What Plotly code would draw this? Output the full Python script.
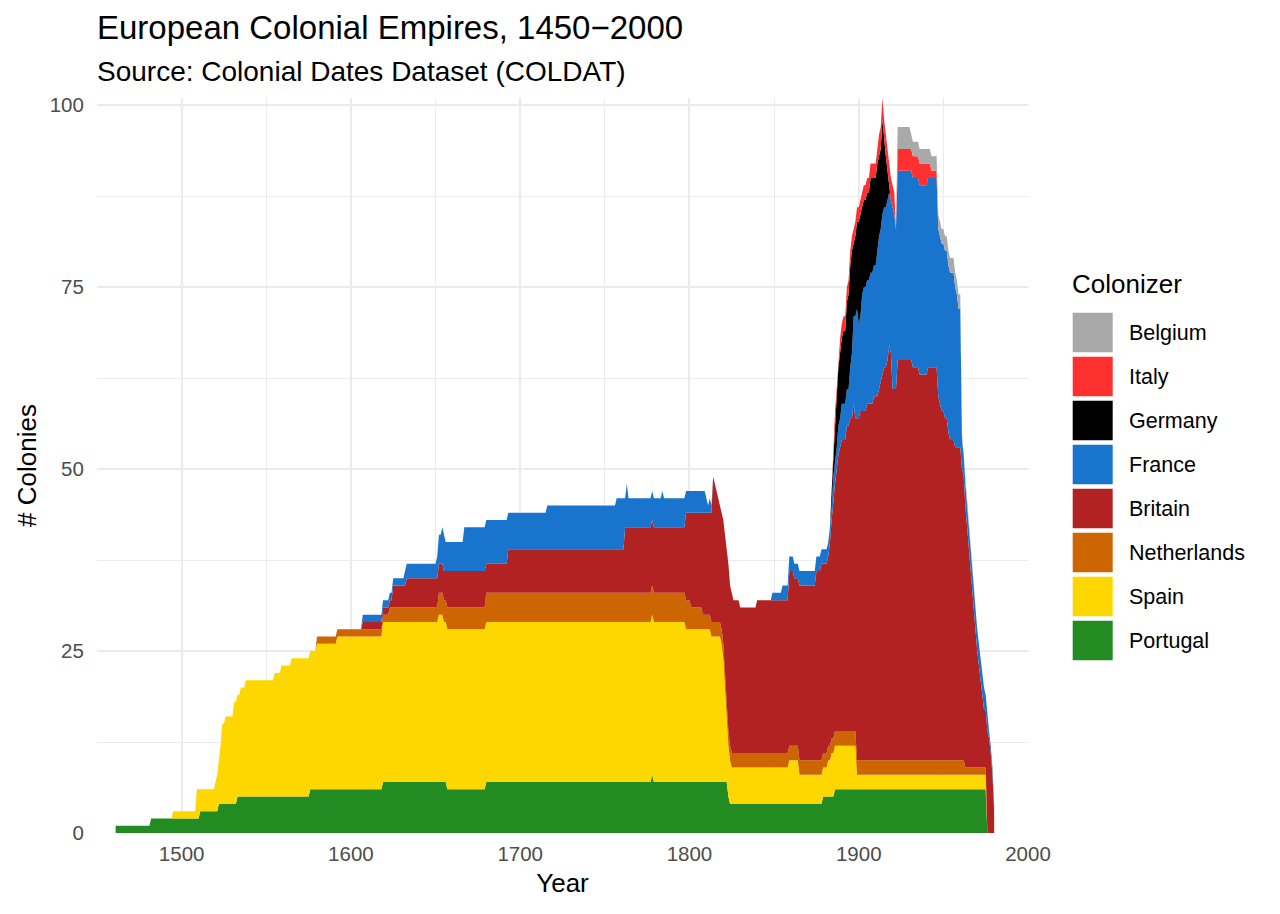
import pandas as pd
import plotly.graph_objects as go

# yearly grid of the chart
YEARS = list(range(1461, 1981))

# colonies held, as (year of change, new count) step lists
PORTUGAL_YEARS = [1461, 1482, 1511, 1522, 1533, 1576, 1619, 1657, 1680, 1778, 1779, 1823, 1824, 1879, 1886, 1976]
PORTUGAL_COUNTS = [1, 2, 3, 4, 5, 6, 7, 6, 7, 8, 7, 5, 4, 5, 6, 0]

SPAIN_YEARS = [1495, 1509, 1511, 1520, 1521, 1522, 1523, 1524, 1526, 1531, 1535, 1538, 1555, 1559, 1565,
               1580, 1592, 1619, 1652, 1655, 1798, 1813, 1819, 1820, 1821, 1822, 1823, 1824, 1825, 1859,
               1865, 1882, 1884, 1899, 1976]
SPAIN_COUNTS = [1, 4, 3, 4, 5, 6, 8, 11, 12, 14, 15, 16, 17, 18, 19,
                20, 21, 22, 23, 22, 21, 20, 19, 17, 13, 9, 7, 6, 5, 6,
                4, 5, 6, 2, 0]

NETHERLANDS_YEARS = [1580, 1623, 1652, 1680, 1801, 1808, 1963, 1976]
NETHERLANDS_COUNTS = [1, 2, 3, 4, 3, 2, 1, 0]

BRITAIN_YEARS = [1607, 1625, 1633, 1657, 1680, 1693, 1762, 1798, 1801, 1808, 1813, 1814, 1815, 1816, 1817,
                 1818, 1820, 1821, 1822, 1823, 1824, 1826, 1830, 1840, 1859, 1862, 1865, 1875, 1878, 1879,
                 1883, 1884, 1885, 1886, 1887, 1888, 1889, 1890, 1893, 1895, 1897, 1898, 1899, 1901, 1905,
                 1909, 1912, 1913, 1914, 1915, 1917, 1918, 1919, 1920, 1923, 1932, 1936, 1941, 1947, 1948,
                 1949, 1951, 1953, 1954, 1957, 1961, 1962, 1963, 1964, 1965, 1966, 1967, 1968, 1969, 1970,
                 1971, 1972, 1973, 1974, 1976, 1977, 1978, 1979, 1980]
BRITAIN_COUNTS = [1, 3, 4, 5, 4, 6, 9, 12, 13, 14, 15, 20, 19, 18, 17,
                  16, 17, 19, 21, 23, 22, 21, 20, 21, 24, 23, 24, 26, 27, 26,
                  28, 30, 33, 34, 36, 38, 39, 40, 42, 43, 45, 43, 47, 48, 49,
                  50, 51, 52, 53, 54, 55, 57, 56, 51, 55, 54, 53, 54, 50, 49,
                  48, 47, 45, 44, 43, 40, 39, 36, 33, 30, 27, 24, 21, 19, 16,
                  14, 12, 10, 8, 14, 13, 11, 8, 3]

FRANCE_YEARS = [1607, 1632, 1651, 1652, 1654, 1656, 1667, 1693, 1716, 1757, 1762, 1763, 1764, 1784, 1785,
                1798, 1810, 1811, 1812, 1813, 1814, 1849, 1855, 1885, 1888, 1890, 1895, 1896, 1897, 1898,
                1899, 1900, 1902, 1903, 1907, 1911, 1912, 1914, 1918, 1920, 1921, 1922, 1923, 1947, 1957,
                1958, 1959, 1961, 1962, 1975, 1977]
FRANCE_COUNTS = [1, 2, 3, 4, 5, 4, 6, 5, 6, 7, 4, 6, 4, 5, 4,
                 3, 2, 1, 2, 1, 0, 1, 2, 3, 4, 5, 7, 9, 12, 14,
                 15, 13, 16, 17, 18, 20, 21, 22, 21, 25, 24, 22, 26, 23, 22,
                 21, 19, 4, 3, 2, 1]

GERMANY_YEARS = [1884, 1885, 1886, 1887, 1888, 1889, 1891, 1893, 1894, 1895, 1897, 1898, 1899, 1900, 1902,
                 1907, 1909, 1912, 1914, 1915, 1916, 1917, 1918, 1919]
GERMANY_COUNTS = [2, 3, 6, 7, 8, 9, 10, 12, 13, 14, 10, 11, 12, 14, 12,
                  13, 12, 11, 13, 9, 7, 4, 1, 0]

ITALY_YEARS = [1885, 1889, 1912, 1922, 1923, 1941, 1943, 1947]
ITALY_COUNTS = [1, 2, 3, 0, 3, 2, 1, 0]

BELGIUM_YEARS = [1923, 1931, 1961, 1962]
BELGIUM_COUNTS = [3, 2, 1, 0]

# stacking order, bottom first
COLONIZERS = ["Portugal", "Spain", "Netherlands", "Britain", "France", "Germany", "Italy", "Belgium"]
COLORS = ["#228B22", "#FFD700", "#CD6600", "#B22222", "#1874CD", "#000000", "#FF3030", "#A9A9A9"]
STEPS = [
    (PORTUGAL_YEARS, PORTUGAL_COUNTS),
    (SPAIN_YEARS, SPAIN_COUNTS),
    (NETHERLANDS_YEARS, NETHERLANDS_COUNTS),
    (BRITAIN_YEARS, BRITAIN_COUNTS),
    (FRANCE_YEARS, FRANCE_COUNTS),
    (GERMANY_YEARS, GERMANY_COUNTS),
    (ITALY_YEARS, ITALY_COUNTS),
    (BELGIUM_YEARS, BELGIUM_COUNTS),
]


def yearly(years, counts):
    # counts hold until the next recorded change
    return pd.Series(counts, index=years).reindex(YEARS).ffill().fillna(0)


df = pd.DataFrame({name: yearly(*st) for name, st in zip(COLONIZERS, STEPS)}, index=YEARS)

FONT = "Liberation Sans, Arial, sans-serif"

fig = go.Figure()
for name, color in zip(COLONIZERS, COLORS):
    fig.add_trace(go.Scatter(
        x=df.index, y=df[name], name=name,
        stackgroup="one", mode="lines",
        line=dict(width=0, color=color),
        fillcolor=color,
        showlegend=False,
    ))

# page body has an 8px margin, so the figure is laid out 8px up/left
OFF = 8
L, T, W, H = 97 - OFF, 98 - OFF, 931, 735
shapes = []
annotations = [
    dict(text="Source: Colonial Dates Dataset (COLDAT)", x=0, y=(H + 98 - 71) / H,
         xref="paper", yref="paper", xanchor="left", yanchor="middle", showarrow=False,
         xshift=-2, font=dict(size=28, color="black", family=FONT)),
    dict(text="Colonizer", x=(1072 - 97) / W, y=(H + 98 - 284) / H,
         xref="paper", yref="paper", xanchor="left", yanchor="middle", showarrow=False,
         xshift=-2, font=dict(size=26, color="black", family=FONT)),
]
# hand-built legend with large square keys, top entry = top of the stack
for i, (name, color) in enumerate(zip(COLONIZERS[::-1], COLORS[::-1])):
    top = 312.7 + 44 * i
    shapes.append(dict(type="rect", xref="paper", yref="paper",
                       x0=(1072.7 - 97) / W, x1=(1112.7 - 97) / W,
                       y0=(H + 98 - top - 39.5) / H, y1=(H + 98 - top) / H,
                       fillcolor=color, line=dict(width=0)))
    annotations.append(dict(text=name, x=(1129 - 97) / W, y=(H + 98 - top - 20) / H,
                            xref="paper", yref="paper", xanchor="left", yanchor="middle",
                            showarrow=False, xshift=-2,
                            font=dict(size=21.5, color="black", family=FONT)))

grid = "#EBEBEB"
fig.update_layout(
    width=1280, height=914,
    margin=dict(l=L, r=1280 - L - W, t=T, b=914 - T - H),
    paper_bgcolor="white", plot_bgcolor="white",
    font=dict(family=FONT),
    title=dict(text="European Colonial Empires, 1450\u22122000", x=0, xref="paper", xanchor="left",
               y=1 - (27 - OFF) / 914, yref="container", yanchor="middle",
               font=dict(size=33, color="black", family=FONT)),
    shapes=shapes,
    annotations=annotations,
    showlegend=False,
    xaxis=dict(
        range=[1450, 2000], tick0=1500, dtick=100,
        showgrid=True, gridcolor=grid, gridwidth=1.8,
        minor=dict(dtick=50, tick0=1450, showgrid=True, gridcolor=grid, gridwidth=1),
        zeroline=False, showline=False,
        ticks="outside", ticklen=2, tickcolor="rgba(0,0,0,0)",
        tickfont=dict(size=20.5, color="#4D4D4D", family=FONT),
        title=dict(text="Year", standoff=10, font=dict(size=26, color="black", family=FONT)),
    ),
    yaxis=dict(
        range=[0, 101], tick0=0, dtick=25,
        showgrid=True, gridcolor=grid, gridwidth=1.8,
        minor=dict(dtick=12.5, tick0=0, showgrid=True, gridcolor=grid, gridwidth=1),
        zeroline=False, showline=False,
        ticks="outside", ticklen=8, tickcolor="rgba(0,0,0,0)",
        tickfont=dict(size=20.5, color="#4D4D4D", family=FONT),
        title=dict(text="# Colonies", standoff=5, font=dict(size=26, color="black", family=FONT)),
    ),
)

fig.write_html("out.html")
